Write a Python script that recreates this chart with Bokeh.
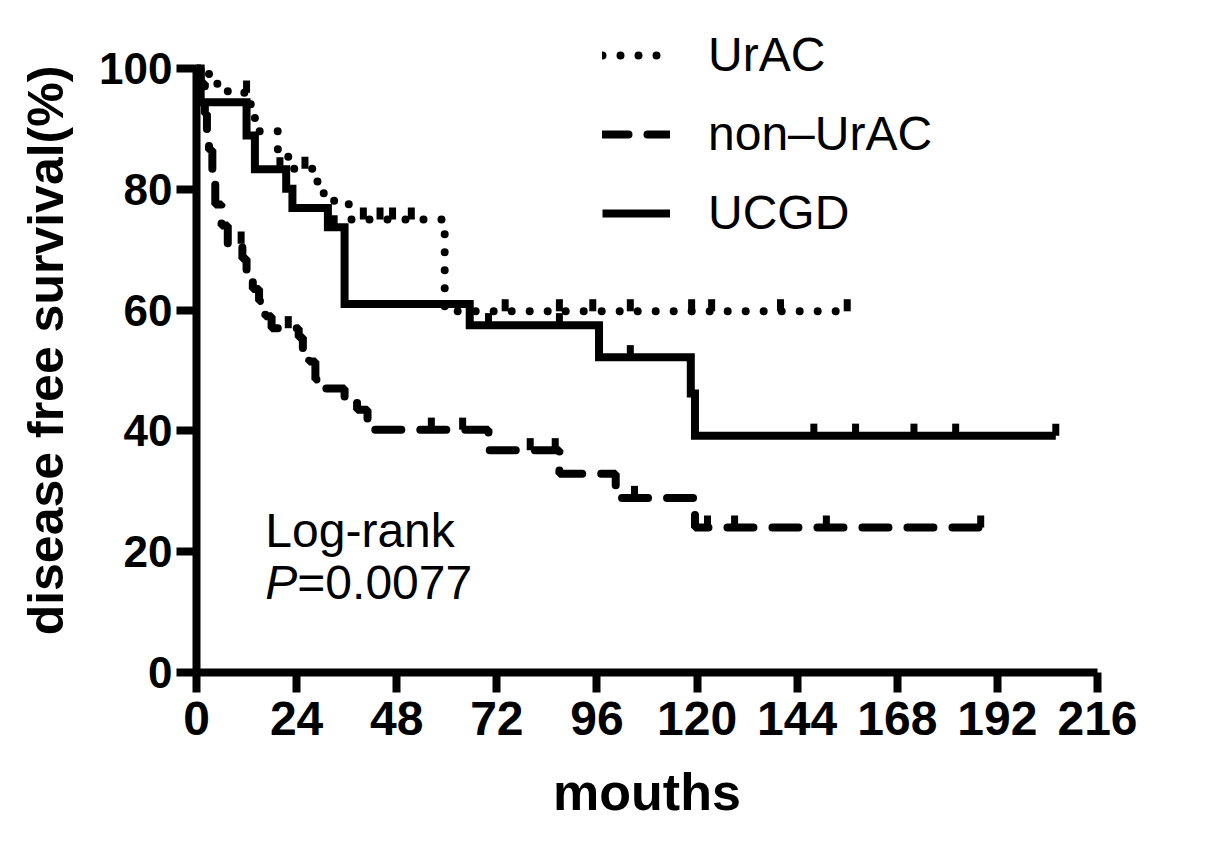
import numpy as np
from bokeh.plotting import figure
from bokeh.models import Range1d, Legend, LegendItem, Label, FixedTicker
from bokeh.embed import file_html
from bokeh.resources import INLINE

# ---------------- data ----------------
x_ticks = [0, 24, 48, 72, 96, 120, 144, 168, 192, 216]
y_ticks = [0, 20, 40, 60, 80, 100]

# UrAC (dotted)
urac_t = [0, 3, 5, 7.5, 13, 14, 15, 19.5, 22, 29, 30.5, 33, 36.5, 59.5, 62]
urac_s = [100, 98.4, 96.8, 96.0, 93.6, 91.2, 89.6, 86.6, 83.4, 81.2, 79.0, 77.6, 75.0, 60.5, 59.8]
urac_end = 156
urac_censor = [12, 26, 40, 44, 47, 51.5, 74, 87, 95, 104, 118.7, 123.5, 140, 156]

# non-UrAC (dashed)
nonu_t = [0, 1, 2, 2.5, 3, 3.8, 4.5, 6, 7.5, 11, 12, 13.5, 15, 16.5, 18, 24.5, 25.5, 27,
          28.5, 30.5, 35.5, 38.5, 41, 42.5, 70, 87, 100.5, 102, 119.5]
nonu_s = [100, 97.5, 92.5, 89.5, 86.5, 81.5, 77.5, 74.0, 71.0, 68.5, 66.0, 63.5, 61.5, 59.0,
          57.0, 55.5, 53.3, 51.5, 48.5, 47.0, 45.3, 43.5, 42.0, 40.2, 36.8, 32.9, 30.6, 28.9, 24.0]
nonu_end = 188
nonu_censor = [10.7, 22, 56.3, 63.8, 80, 86, 105, 122.5, 129, 151, 188]

# UCGD (solid)
ucgd_t = [0, 1, 12, 14, 21.5, 23, 31.5, 35.5, 65.5, 96.5, 118.5, 119.5]
ucgd_s = [100, 94.4, 88.9, 83.3, 80.1, 76.9, 73.7, 61.0, 57.5, 52.2, 46.2, 39.2]
ucgd_end = 206
ucgd_censor = [20, 33, 70, 87, 104, 148, 158, 172, 182, 206]

FONT = "Liberation Sans"
LW = 8
TICK_UP = 2.0  # censor tick height in data units


def step_xy(t, s, end):
    return list(t) + [end], list(s) + [s[-1]]


def censor_y(t, s, c):
    idx = np.searchsorted(np.asarray(t), np.asarray(c), side="right") - 1
    return np.asarray(s)[idx]


p = figure(frame_width=901, frame_height=644,
           x_range=Range1d(0, 216), y_range=Range1d(0, 106.62),
           output_backend="svg", toolbar_location=None,
           min_border_left=196, min_border_top=28,
           min_border_bottom=150, min_border_right=80)
p.outline_line_color = None
p.grid.visible = False

for ax in (p.xaxis[0], p.yaxis[0]):
    ax.axis_line_width = LW
    ax.axis_line_color = "black"
    ax.major_tick_line_width = LW
    ax.major_tick_line_color = "black"
    ax.major_tick_out = 20
    ax.major_tick_in = 0
    ax.minor_tick_line_color = None
    ax.major_label_text_font = FONT
    ax.major_label_text_font_style = "bold"
    ax.major_label_text_color = "black"
    ax.axis_label_text_font = FONT
    ax.axis_label_text_font_style = "bold"
    ax.axis_label_text_color = "black"

p.xaxis.ticker = FixedTicker(ticks=x_ticks)
p.yaxis.ticker = FixedTicker(ticks=y_ticks)
p.xaxis.bounds = (0, 216)
p.yaxis.bounds = (0, 100)
p.xaxis.major_label_text_font_size = "48px"
p.yaxis.major_label_text_font_size = "44px"
p.xaxis.major_label_standoff = 9
p.yaxis.major_label_standoff = 4
p.xaxis.axis_label = "mouths"
p.yaxis.axis_label = "disease free survival(%)"
p.xaxis.axis_label_text_font_size = "52px"
p.yaxis.axis_label_text_font_size = "50px"
p.xaxis.axis_label_standoff = 25
p.yaxis.axis_label_standoff = 22

# curves
ux, uy = step_xy(urac_t, urac_s, urac_end)
r_urac = p.step(ux, uy, mode="after", line_width=LW, line_color="black",
                line_dash="0 18", line_cap="round")
nx, ny = step_xy(nonu_t, nonu_s, nonu_end)
r_nonu = p.step(nx, ny, mode="after", line_width=LW, line_color="black",
                line_dash="26 19", line_cap="round")
gx, gy = step_xy(ucgd_t, ucgd_s, ucgd_end)
r_ucgd = p.step(gx, gy, mode="after", line_width=LW, line_color="black",
                line_join="miter", line_cap="butt")

# censor ticks
for t, s, c in ((urac_t, urac_s, urac_censor),
                (nonu_t, nonu_s, nonu_censor),
                (ucgd_t, ucgd_s, ucgd_censor)):
    cy = censor_y(t, s, c)
    p.segment(x0=c, y0=cy, x1=c, y1=cy + TICK_UP, line_width=7, line_color="black")

legend = Legend(items=[LegendItem(label="UrAC", renderers=[r_urac]),
                       LegendItem(label="non\u2013UrAC", renderers=[r_nonu]),
                       LegendItem(label="UCGD", renderers=[r_ucgd])],
                location=(406, 432))
legend.glyph_width = 68
legend.glyph_height = 40
legend.label_standoff = 38
legend.label_text_font = FONT
legend.label_text_font_size = "48px"
legend.label_text_color = "black"
legend.spacing = 24
legend.padding = 0
legend.margin = 0
legend.border_line_color = None
legend.background_fill_alpha = 0
p.add_layout(legend)

p.add_layout(Label(x=16.5, y=23.5, text="Log-rank", text_font=FONT,
                   text_font_size="48px", text_baseline="alphabetic", text_color="black"))
p.add_layout(Label(x=16.5, y=14.9, text="P", text_font=FONT, text_font_style="italic",
                   text_font_size="48px", text_baseline="alphabetic", text_color="black"))
p.add_layout(Label(x=16.5, y=14.9, x_offset=32, text="=0.0077", text_font=FONT,
                   text_font_size="48px", text_baseline="alphabetic", text_color="black"))

open("out.html", "w").write(file_html(p, INLINE))
